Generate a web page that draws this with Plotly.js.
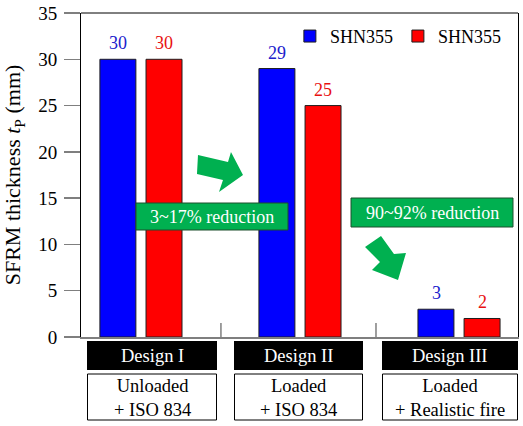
<!DOCTYPE html>
<html>
<head>
<meta charset="utf-8">
<script src="https://cdn.plot.ly/plotly-3.0.1.min.js"></script>
<style>
  html, body { margin: 0; padding: 0; background: #fff; overflow: hidden; }
  #chart { width: 523px; height: 426px; }
</style>
</head>
<body>
<div id="chart"></div>
<script>
// Design cases and their loading / fire condition
const categories = ['Design I', 'Design II', 'Design III'];
const conditions = ['Unloaded<br>+ ISO 834', 'Loaded<br>+ ISO 834', 'Loaded<br>+ Realistic fire'];

// SFRM thickness t_P (mm) for the two series
const seriesNames = ['SHN355', 'SHN355'];
const thicknessBlue = [30, 29, 3];
const thicknessRed = [30, 25, 2];

// Reduction call-outs
const reductionLabels = ['3~17% reduction', '90~92% reduction'];

// Frame geometry (pixels)
const L = 81, T = 13, W = 437, H = 324;
const fx = x => (x - L) / W;
const fy = y => (T + H - y) / H;

const FONT = '"Liberation Serif", "Times New Roman", Times, serif';
const GREEN = '#00b050';

const barLine = { color: '#1e1e1e', width: 1 };
const traces = [
  { type: 'bar', name: seriesNames[0], x: categories, y: thicknessBlue,
    marker: { color: '#0000ff', line: barLine }, hoverinfo: 'x+y' },
  { type: 'bar', name: seriesNames[1], x: categories, y: thicknessRed,
    marker: { color: '#ff0000', line: barLine }, hoverinfo: 'x+y' }
];

const annotations = [];
const shapes = [];

// value labels above each bar
const barShift = 23;
[[thicknessBlue, '#2020cc', -barShift], [thicknessRed, '#e81010', barShift]].forEach(([vals, col, dx]) => {
  vals.forEach((v, i) => {
    annotations.push({ x: categories[i], y: v, xref: 'x', yref: 'y', text: String(v),
      showarrow: false, xshift: dx, yshift: 16, yanchor: 'middle',
      font: { family: FONT, size: 18, color: col } });
  });
});

// group separators on the baseline
[0.503, 1.478].forEach(xv => {
  shapes.push({ type: 'line', xref: 'x', yref: 'paper', x0: xv, x1: xv, y0: 0, y1: 14 / H,
    line: { color: '#7f7f7f', width: 1.5 } });
});

// top frame line
shapes.push({ type: 'line', xref: 'paper', yref: 'paper', x0: 0, x1: 1, y0: 1, y1: 1,
  line: { color: '#000', width: 1 } });

// category label boxes below the axis
const boxSpans = [[87, 217], [234, 363], [382, 518]];
boxSpans.forEach(([a, b], i) => {
  shapes.push({ type: 'rect', xref: 'paper', yref: 'paper', x0: fx(a), x1: fx(b), y0: fy(370), y1: fy(341),
    fillcolor: '#000', line: { width: 0 } });
  shapes.push({ type: 'rect', xref: 'paper', yref: 'paper', x0: fx(a + 0.5), x1: fx(b - 0.5), y0: fy(420), y1: fy(374),
    fillcolor: '#fff', line: { color: '#000', width: 1 } });
  annotations.push({ xref: 'paper', yref: 'paper', x: fx((a + b) / 2), y: fy(355.5), text: categories[i],
    showarrow: false, xanchor: 'center', yanchor: 'middle',
    font: { family: FONT, size: 18.5, color: '#fff' } });
  annotations.push({ xref: 'paper', yref: 'paper', x: fx((a + b) / 2), y: fy(398), text: conditions[i],
    showarrow: false, xanchor: 'center', yanchor: 'middle',
    font: { family: FONT, size: 18.5, color: '#000' } });
});

// green reduction boxes
const calloutBoxes = [[136, 288, 203, 230], [351, 513, 198, 227]];
calloutBoxes.forEach(([a, b, t, btm], i) => {
  shapes.push({ type: 'rect', xref: 'paper', yref: 'paper', x0: fx(a), x1: fx(b), y0: fy(btm), y1: fy(t),
    fillcolor: GREEN, line: { color: '#1c4f2c', width: 1 } });
  annotations.push({ xref: 'paper', yref: 'paper', x: fx((a + b) / 2), y: fy((t + btm) / 2), text: reductionLabels[i],
    showarrow: false, xanchor: 'center', yanchor: 'middle',
    font: { family: FONT, size: 18, color: '#fff' } });
});

// block arrows
const arrowPolys = [
  [[198, 155], [228, 162], [231, 152], [243, 175], [219, 192], [223, 180], [197, 174]],
  [[365, 247], [381, 236], [394, 254], [406, 253], [398, 280], [372, 270], [380, 262]]
];
arrowPolys.forEach(poly => {
  const path = poly.map((p, k) => (k ? 'L' : 'M') + fx(p[0]).toFixed(4) + ',' + fy(p[1]).toFixed(4)).join(' ') + ' Z';
  shapes.push({ type: 'path', xref: 'paper', yref: 'paper', path, fillcolor: GREEN, line: { width: 0 } });
});

const layout = {
  width: 523, height: 426,
  margin: { l: L, r: 523 - L - W, t: T, b: 426 - T - H },
  paper_bgcolor: '#fff', plot_bgcolor: '#fff',
  font: { family: FONT, size: 19, color: '#000' },
  barmode: 'group', bargap: 0.42, bargroupgap: 0.22,
  showlegend: true,
  legend: { orientation: 'h', x: 0.478, y: 0.985, xanchor: 'left', yanchor: 'top',
    font: { family: FONT, size: 18, color: '#000' }, bgcolor: 'rgba(0,0,0,0)' },
  xaxis: { type: 'category', categoryorder: 'array', categoryarray: categories,
    range: [-0.377, 2.371], showticklabels: false, ticks: '', showgrid: false, zeroline: false,
    showline: true, linecolor: '#7f7f7f', linewidth: 1.5, automargin: false, fixedrange: true },
  yaxis: { range: [0, 35], dtick: 5, tick0: 0, ticks: 'outside', ticklen: 16, tickwidth: 1.5,
    tickcolor: '#7f7f7f', ticklabelstandoff: 3, showgrid: false, zeroline: false,
    showline: true, mirror: true, linecolor: '#000', linewidth: 1,
    tickfont: { family: FONT, size: 19, color: '#000' },
    title: { text: 'SFRM thickness <i>t</i><sub>P</sub> (mm)', standoff: 12,
      font: { family: FONT, size: 22, color: '#000' } },
    automargin: false, fixedrange: true },
  shapes, annotations
};

Plotly.newPlot('chart', traces, layout, { displayModeBar: false, staticPlot: true });
</script>
</body>
</html>
